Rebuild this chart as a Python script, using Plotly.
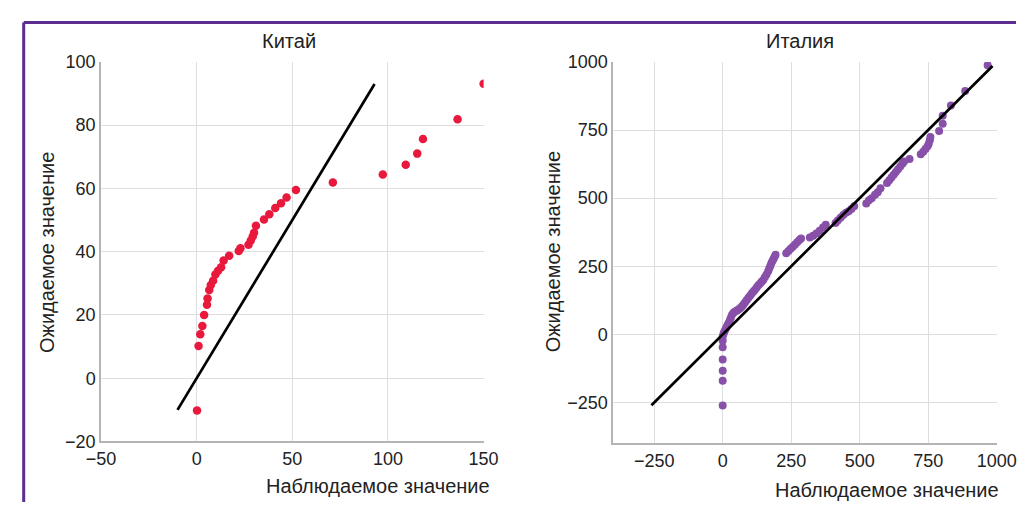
import plotly.graph_objects as go

# ---- Data: China (observed vs expected) ----
china_obs = [0.2, 1.0, 1.9, 3.0, 3.9, 5.4, 5.7, 6.6, 7.4, 8.6, 9.8, 11.2, 12.8, 14.1, 17.0,
             22.0, 22.9, 27.1, 28.3, 29.3, 30.0, 31.0, 35.2, 38.0, 41.1, 44.1, 47.0, 51.9,
             71.2, 97.3, 109.3, 115.3, 118.3, 136.4, 150.0]
china_exp = [-10.2, 10.2, 13.9, 16.5, 20.0, 23.2, 25.2, 27.9, 29.5, 30.8, 32.8, 34.0, 35.1, 37.2, 38.7,
             40.2, 41.1, 42.2, 43.5, 44.8, 46.0, 48.2, 50.2, 51.8, 53.8, 55.3, 57.1, 59.5,
             61.9, 64.4, 67.5, 71.0, 75.6, 81.9, 93.1]
china_line_x = [-10, 93]
china_line_y = [-10, 93]

# ---- Data: Italy (observed vs expected) ----
italy_obs = [0, 0, 0, 0, 0, 0, 0,
             3, 6, 10, 14, 18, 22, 26, 30, 34, 40, 46, 52, 58, 64, 70, 76, 82, 88, 94, 100,
             106, 112, 118, 124, 130, 136, 142, 148, 154, 160, 166, 170, 174, 178, 182, 186, 190, 193,
             232, 240, 248, 256, 264, 272, 280, 286,
             318, 330, 342, 354, 366, 376,
             412, 420, 430, 440, 450, 460, 470, 480,
             524, 534, 544, 556, 566, 576,
             600, 608, 616, 624, 632, 640, 648, 656, 662,
             682,
             723, 732, 740, 748, 752, 756, 758,
             790, 803, 803, 833, 885, 967]
italy_exp = [-261, -170, -133, -92, -47, -23, -8,
             2, 10, 18, 26, 34, 42, 52, 62, 72, 80, 84, 88, 91, 96, 102, 110, 118, 126, 134, 142,
             150, 157, 164, 172, 180, 186, 193, 200, 210, 220, 232, 242, 252, 262, 270, 278, 286, 292,
             298, 306, 314, 322, 330, 338, 346, 352,
             356, 362, 370, 380, 392, 402,
             409, 418, 428, 438, 446, 452, 460, 470,
             480, 492, 500, 512, 522, 536,
             556, 566, 576, 586, 596, 606, 616, 626, 634,
             644,
             661, 670, 680, 690, 700, 712, 724,
             746, 773, 802, 840, 893, 988]
italy_line_x = [-260, 985]
italy_line_y = [-260, 985]

china_xticks = [-50, 0, 50, 100, 150]
china_yticks = [-20, 0, 20, 40, 60, 80, 100]
italy_ticks = [-250, 0, 250, 500, 750, 1000]

RED = "#e8193c"
PURPLE = "#8850a8"
FONT = "Liberation Sans, Arial, sans-serif"
TXT = "#222222"

W, H = 1036, 512

fig = go.Figure()
fig.add_trace(go.Scatter(x=china_line_x, y=china_line_y, mode="lines",
                         line=dict(color="black", width=2.7), xaxis="x", yaxis="y"))
fig.add_trace(go.Scatter(x=china_obs, y=china_exp, mode="markers",
                         marker=dict(color=RED, size=8.5), xaxis="x", yaxis="y"))
fig.add_trace(go.Scatter(x=italy_obs, y=italy_exp, mode="markers",
                         marker=dict(color=PURPLE, size=8), xaxis="x2", yaxis="y2"))
fig.add_trace(go.Scatter(x=italy_line_x, y=italy_line_y, mode="lines",
                         line=dict(color="black", width=2.7), xaxis="x2", yaxis="y2"))

axis_common = dict(showgrid=True, gridcolor="#dedede", gridwidth=1, zeroline=False,
                   showline=True, linecolor="#b4b4b4", linewidth=1.5, ticks="",
                   tickfont=dict(family=FONT, size=18, color=TXT), fixedrange=True)

fig.update_layout(
    width=W, height=H,
    margin=dict(l=0, r=0, t=0, b=0),
    paper_bgcolor="white", plot_bgcolor="white",
    showlegend=False, hovermode=False,
    xaxis=dict(domain=[89 / W, 485 / W], range=[-50, 150], tickvals=china_xticks,
               anchor="y", **axis_common),
    yaxis=dict(domain=[1 - 449 / H, 1 - 54 / H], range=[-20, 100], tickvals=china_yticks,
               anchor="x", **axis_common),
    xaxis2=dict(domain=[619 / W, 1016 / W], range=[-400, 1000], tickvals=italy_ticks,
                anchor="y2", **axis_common),
    yaxis2=dict(domain=[1 - 451 / H, 1 - 54 / H], range=[-400, 1000], tickvals=italy_ticks,
                anchor="x2", **axis_common),
)

def ann(text, x, y, angle=0, size=20):
    fig.add_annotation(text=text, x=x / W, y=1 - y / H, xref="paper", yref="paper",
                       showarrow=False, textangle=angle, xanchor="center", yanchor="middle",
                       font=dict(family=FONT, size=size, color=TXT))

ann("Китай", 284, 32, size=20)
ann("Италия", 812, 32, size=20)
ann("Ожидаемое значение", 33, 252, angle=-90)
ann("Ожидаемое значение", 557, 252, angle=-90)
ann("Наблюдаемое значение", 376, 495)
ann("Наблюдаемое значение", 902, 500)

# purple frame (top and left)
FR = "#5a2d8e"
fig.add_shape(type="line", xref="paper", yref="paper", x0=9 / W, x1=1, y0=1 - 13 / H, y1=1 - 13 / H,
              line=dict(color=FR, width=3))
fig.add_shape(type="line", xref="paper", yref="paper", x0=9 / W, x1=9 / W, y0=0, y1=1 - 13 / H,
              line=dict(color=FR, width=3))

fig.write_html("out.html", config={"displayModeBar": False},
               post_script="document.documentElement.style.overflow='hidden';"
                           "document.body.style.margin='0';document.body.style.overflow='hidden';")
